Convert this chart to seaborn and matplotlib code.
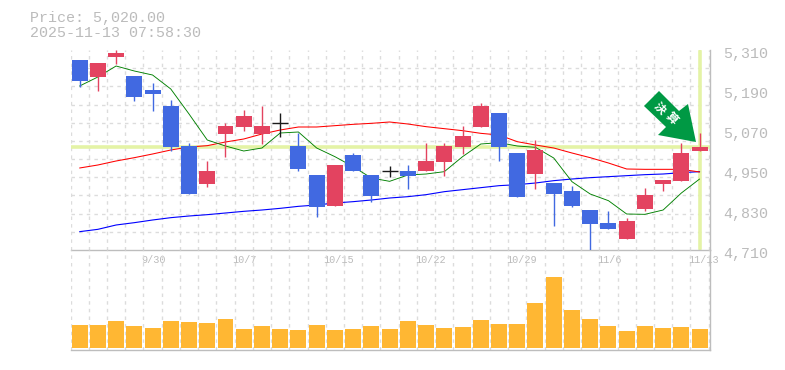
import numpy as np, pandas as pd
import matplotlib
matplotlib.use("Agg")
import matplotlib.pyplot as plt
import seaborn as sns
from matplotlib.patches import Polygon
from matplotlib.transforms import ScaledTranslation, IdentityTransform

opens = [5280,5229,5289,5232,5190,5142,5022,4909,5058,5079,5058,5090,5022,4935,4842,4995,4935,4946,4947,4947,4974,5019,5079,5121,5001,4938,4911,4887,4830,4791,4743,4833,4908,4917,5007]
closes = [5217,5271,5301,5169,5178,5020,4879,4947,5082,5112,5082,5090,4953,4839,4965,4947,4872,4946,4932,4977,5022,5052,5142,5019,4869,5010,4878,4842,4788,4773,4797,4875,4920,5001,5020]
highs = [5280,5271,5310,5232,5211,5160,5030,4977,5091,5130,5142,5121,5062,4935,4965,5001,4935,4962,4965,5031,5031,5082,5151,5121,5001,5040,4911,4902,4830,4827,4806,4896,4920,5031,5061]
lows = [5200,5187,5268,5157,5127,5008,4879,4900,4990,5067,5028,5050,4947,4809,4842,4947,4854,4929,4893,4947,4932,4998,5079,4977,4869,4893,4782,4839,4707,4773,4743,4827,4887,4917,5007]
ma_green = [5202,5229,5262,5247,5235,5193,5118,5040,5022,5007,5016,5061,5064,5016,4990,4960,4926,4916,4935,4938,4945,4990,5028,5032,5022,5018,4986,4915,4878,4858,4818,4817,4830,4881,4923]
ma_red = [4956,4965,4977,4987,4998,5010,5019,5023,5034,5043,5058,5070,5079,5079,5083,5087,5090,5094,5088,5080,5074,5068,5060,5055,5035,5025,5016,5001,4987,4971,4953,4952,4952,4952,4944]
ma_blue = [4765,4772,4785,4792,4800,4807,4812,4816,4821,4826,4830,4835,4841,4845,4851,4855,4860,4866,4870,4876,4885,4891,4897,4903,4906,4911,4918,4923,4927,4930,4933,4936,4938,4942,4945]
volume = [23,23,27,22,20,27,26,25,29,19,22,19,18,23,18,19,22,19,27,23,20,21,28,24,24,45,71,38,29,22,17,22,20,21,19]
tick_index = [4,9,14,19,24,29,34]
tick_labels = ["9/30","10/7","10/15","10/22","10/29","11/6","11/13"]
price_ticks = [5310,5190,5070,4950,4830,4710]
doji = [11,17]
last_price = 5020
price_title = "Price: 5,020.00"
time_title = "2025-11-13 07:58:30"
badge_text = "決算"

W,H = 785,370
TXT="#bbbbbb"; GRID="#dcdcdc"; YEL="#e4f3a6"
UP="#e34360"; DOWN="#4169e1"; GOLD="#ffb733"
FONT=["Liberation Mono","DejaVu Sans Mono"]
sns.set_theme(style="white")
plt.rcParams["font.family"]=FONT
fig=plt.figure(figsize=(W/100,H/100),dpi=100)
def axpx(l,t,r,b): return fig.add_axes([l/W,1-b/H,(r-l)/W,(b-t)/H])
ax=axpx(70.5,50,710,250); av=axpx(70.5,250,710,350)
n=len(opens); idx=np.arange(n)
xlim=(-0.5,34.57)
df=pd.DataFrame(dict(i=idx,g=ma_green,r=ma_red,b=ma_blue,v=volume))
for c,col,lw in (("b","#0000ff",0.8),("r","#ff0000",0.75),("g","#008000",0.65)):
    sns.lineplot(data=df,x="i",y=c,color=col,lw=lw,ax=ax,zorder=3,errorbar=None)
for i in idx:
    if i in doji:
        ax.vlines(i,lows[i],highs[i],color="k",lw=1,zorder=6)
        ax.hlines(opens[i],i-.44,i+.44,color="k",lw=1,zorder=6)
        continue
    col=UP if closes[i]>=opens[i] else DOWN
    ax.vlines(i,lows[i],highs[i],color=col,lw=1,zorder=4)
    ax.bar(i,abs(closes[i]-opens[i]),bottom=min(opens[i],closes[i]),width=.877,color=col,zorder=5,lw=0)
ax.axhline(last_price,color=YEL,lw=2.6,zorder=2)
ax.axvline(n-1,ymin=.005,ymax=.995,color=YEL,lw=2.6,zorder=2)
sns.barplot(data=df,x="i",y="v",native_scale=True,color=GOLD,saturation=1,width=.877,ax=av,zorder=3,lw=0)
ax.set_xlim(*xlim); av.set_xlim(*xlim)
ax.set_ylim(4710,5310); av.set_ylim(-2,98)
minor_x=np.arange(-.5,35,1)
for a in (ax,av):
    a.set_xticks(minor_x,minor=True); a.set_xticks([]); a.set_yticks([])
    a.set_xlabel(""); a.set_ylabel("")
    a.grid(False); a.grid(True,which="minor",axis="x",color=GRID,lw=1,ls=(0,(2.5,3)),zorder=0)
    a.tick_params(which="both",length=0,labelbottom=False)
    a.set_axisbelow(True); a.patch.set_alpha(0)
    for s in ("top","left"): a.spines[s].set_visible(False)
    for s in ("bottom","right"):
        a.spines[s].set_color("#bdbdbd"); a.spines[s].set_linewidth(1)
ax.set_yticks(np.linspace(4710,5310,12),minor=True)
ax.grid(True,which="minor",axis="y",color=GRID,lw=1,ls=(0,(2.5,3)),zorder=0)
ax.set_yticks(price_ticks)
ax.yaxis.tick_right()
ax.set_yticklabels([f"{p:,}" for p in price_ticks],color=TXT,fontsize=10.8,family=FONT)
ax.tick_params(axis="y",which="major",length=0,pad=9.5,labelright=True,labelleft=False)
off=ScaledTranslation(0,-3/100,fig.dpi_scale_trans)
for t in ax.get_yticklabels(): t.set_transform(t.get_transform()+off)
ax.tick_params(axis="y",which="minor",length=0)
for i,l in zip(tick_index,tick_labels):
    ax.annotate(l,(i,0),xycoords=ax.get_xaxis_transform(),xytext=(4 if len(l)==5 else 1,-10),textcoords="offset pixels",
                ha="center",va="center",fontsize=7.3,color=TXT,family=FONT,annotation_clip=False,zorder=7)
fig.text(30/W,1-18/H,price_title,color=TXT,fontsize=10.8,va="center",family=FONT)
fig.text(30/W,1-33/H,time_title,color=TXT,fontsize=10.8,va="center",family=FONT)
# badge arrow (pixel space, y down)
pts=[(659,91),(679,111),(688,104),(696,142),(658,135),(666,127),(644,106)]
px=[(x,H-y) for x,y in pts]
fig.add_artist(Polygon(px,closed=True,transform=IdentityTransform(),fc="#009944",ec="none",zorder=10))
for ch,(x,y) in zip(badge_text,[(660,108),(671.5,119)]):
    fig.text(x/W,1-y/H,ch,color="white",fontsize=8.5,fontweight="bold",rotation=-45,ha="center",va="center",
             family=["Noto Sans CJK JP","DejaVu Sans"],zorder=11)
fig.savefig("out.png",dpi=100)
